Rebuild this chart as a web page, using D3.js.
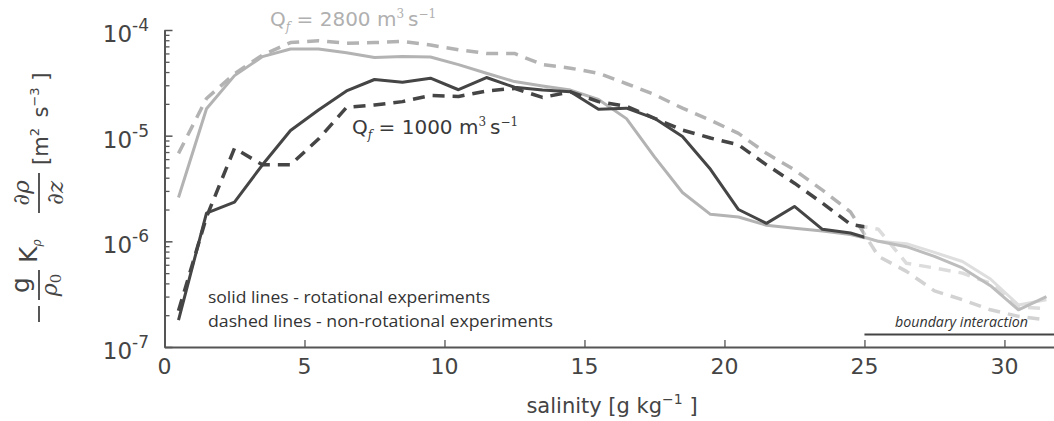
<!DOCTYPE html>
<html>
<head>
<meta charset="utf-8">
<script src="https://cdn.jsdelivr.net/npm/d3@7"></script>
<style>
  body { margin: 0; background: #fff; }
  svg { display: block; }
</style>
</head>
<body>
<svg id="chart" width="1054" height="421"></svg>
<script>
// Salinity bin centres [g/kg]
const salinityBins = [0.5, 1.5, 2.5, 3.5, 4.5, 5.5, 6.5, 7.5, 8.5, 9.5, 10.5, 11.5, 12.5, 13.5, 14.5, 15.5,
  16.5, 17.5, 18.5, 19.5, 20.5, 21.5, 22.5, 23.5, 24.5, 25.5, 26.5, 27.5, 28.5, 29.5, 30.5, 31.5];

// Buoyancy flux -g/rho0 K dRho/dz [m^2 s^-3] per salinity bin
const rot2800 = [2.6e-6, 1.8e-5, 3.7e-5, 5.6e-5, 6.6e-5, 6.6e-5, 6.1e-5, 5.5e-5, 5.6e-5, 5.55e-5, 4.7e-5,
  3.9e-5, 3.25e-5, 2.95e-5, 2.7e-5, 2.2e-5, 1.45e-5, 6.3e-6, 2.9e-6, 1.8e-6, 1.7e-6, 1.42e-6, 1.33e-6,
  1.25e-6, 1.16e-6, 1.0e-6, 9.5e-7, 7.85e-7, 6.45e-7, 4.4e-7, 2.5e-7, 2.8e-7];
const nonrot2800 = [6.8e-6, 2.25e-5, 3.85e-5, 5.8e-5, 7.6e-5, 7.9e-5, 7.5e-5, 7.6e-5, 7.8e-5, 7.2e-5, 6.5e-5,
  6.0e-5, 6.0e-5, 4.7e-5, 4.35e-5, 3.9e-5, 3.1e-5, 2.45e-5, 1.82e-5, 1.4e-5, 1.05e-5, 6.8e-6, 4.75e-6,
  3.05e-6, 1.9e-6, 7.2e-7, 5.2e-7, 3.4e-7, 2.8e-7, 2.25e-7, 1.95e-7, 1.8e-7];
const rot1000 = [1.8e-7, 1.85e-6, 2.35e-6, 5.3e-6, 1.12e-5, 1.75e-5, 2.65e-5, 3.4e-5, 3.2e-5, 3.5e-5, 2.72e-5,
  3.55e-5, 2.87e-5, 2.7e-5, 2.6e-5, 1.78e-5, 1.82e-5, 1.46e-5, 9.8e-6, 4.8e-6, 2.0e-6, 1.48e-6, 2.14e-6,
  1.3e-6, 1.2e-6, 1.0e-6, 8.9e-7, 7.2e-7, 5.6e-7, 3.8e-7, 2.25e-7, 3.0e-7];
const nonrot1000 = [2.2e-7, 1.7e-6, 7.6e-6, 5.3e-6, 5.3e-6, 9.3e-6, 1.85e-5, 1.95e-5, 2.1e-5, 2.4e-5, 2.35e-5,
  2.65e-5, 2.8e-5, 2.3e-5, 2.6e-5, 2.1e-5, 1.9e-5, 1.46e-5, 1.13e-5, 9.5e-6, 8.2e-6, 5.3e-6, 3.55e-6,
  2.3e-6, 1.45e-6, 1.3e-6, 6.2e-7, 5.6e-7, 5.0e-7, 4.0e-7, 2.4e-7, 2.3e-7];

const yTickExponents = [-4, -5, -6, -7];
const xTickValues = [0, 5, 10, 15, 20, 25, 30];
const boundaryStart = 25;   // salinity above which the plume interacts with the boundary

const W = 1054, H = 421;
const svg = d3.select("#chart");

const x = d3.scaleLinear().domain([0, 31.77]).range([164.5, 1054]);
const y = d3.scaleLog().domain([1e-7, 1e-4]).range([347, 30]);

const AXIS = "#555";
const TEXT = "#444";

// clip regions: interior and boundary-interaction range
const defs = svg.append("defs");
defs.append("clipPath").attr("id", "clip-main")
  .append("rect").attr("x", 0).attr("y", 0).attr("width", x(boundaryStart)).attr("height", H);
defs.append("clipPath").attr("id", "clip-boundary")
  .append("rect").attr("x", x(boundaryStart)).attr("y", 0)
  .attr("width", W - x(boundaryStart)).attr("height", H);

const series = [
  { values: nonrot2800, color: "#b3b3b3", fade: "#d2d2d2", dash: "12,8", width: 3.5 },
  { values: rot2800,    color: "#b3b3b3", fade: "#dedede", dash: null,   width: 3 },
  { values: nonrot1000, color: "#454545", fade: "#dcdcdc", dash: "12,8", width: 3.5 },
  { values: rot1000,    color: "#454545", fade: "#bdbdbd", dash: null,   width: 3 }
];

const line = d3.line()
  .x((d, i) => x(salinityBins[i]))
  .y(d => y(d));

// faded part first, then the interior part
[["clip-boundary", "fade"], ["clip-main", "color"]].forEach(([clip, key]) => {
  const g = svg.append("g").attr("clip-path", `url(#${clip})`);
  series.forEach(s => {
    g.append("path")
      .attr("d", line(s.values))
      .attr("fill", "none")
      .attr("stroke", s[key])
      .attr("stroke-width", s.width)
      .attr("stroke-linejoin", "round")
      .attr("stroke-dasharray", s.dash);
  });
});

// ---- axes ----
function styleAxis(g, tickWidth) {
  g.select(".domain").attr("stroke", AXIS).attr("stroke-width", 2);
  g.selectAll(".tick line").attr("stroke", AXIS).attr("stroke-width", tickWidth);
}

const majorY = yTickExponents.map(e => Math.pow(10, e));
const minorY = [];
[-7, -6, -5].forEach(e => { for (let m = 2; m <= 9; m++) minorY.push(m * Math.pow(10, e)); });

svg.append("g")
  .attr("transform", `translate(${x(0)},0)`)
  .call(d3.axisRight(y).tickValues(minorY).tickSize(5).tickSizeOuter(0).tickFormat(""))
  .call(g => styleAxis(g, 1.3));
svg.append("g")
  .attr("transform", `translate(${x(0)},0)`)
  .call(d3.axisRight(y).tickValues(majorY).tickSize(8).tickSizeOuter(0).tickFormat(""))
  .call(g => styleAxis(g, 1.5));

svg.append("g")
  .attr("transform", `translate(0,${y(1e-7)})`)
  .call(d3.axisTop(x).tickValues(xTickValues).tickSize(7).tickSizeOuter(0).tickFormat(""))
  .call(g => styleAxis(g, 1.3));

// y tick labels 10^k
yTickExponents.forEach(e => {
  const t = svg.append("text")
    .attr("x", 149).attr("y", y(Math.pow(10, e)) + 12)
    .attr("text-anchor", "end")
    .attr("font-family", "DejaVu Sans")
    .attr("font-size", 23)
    .attr("fill", TEXT);
  t.append("tspan").text("10");
  t.append("tspan").attr("dy", -11).attr("font-size", 17).text("-" + Math.abs(e));
});

// x tick labels
svg.append("g").selectAll("text")
  .data(xTickValues)
  .join("text")
  .attr("x", d => x(d))
  .attr("y", 374)
  .attr("text-anchor", "middle")
  .attr("font-family", "DejaVu Sans")
  .attr("font-size", 22)
  .attr("fill", TEXT)
  .text(d => d);

// x axis title
const xt = svg.append("text")
  .attr("x", 612).attr("y", 413)
  .attr("text-anchor", "middle")
  .attr("font-family", "DejaVu Sans")
  .attr("font-size", 21)
  .attr("fill", TEXT);
xt.append("tspan").text("salinity [g kg");
xt.append("tspan").attr("dy", -9).attr("font-size", 14).text("\u22121");
xt.append("tspan").attr("dy", 9).text(" ]");

// y axis title: -g/rho0 K_rho dRho/dz  [m^2 s^-3]
const yl = svg.append("g")
  .attr("transform", "translate(39,322) rotate(-90)")
  .attr("fill", TEXT);
const bar = (x1, x2) => yl.append("line")
  .attr("x1", x1).attr("x2", x2).attr("y1", 0).attr("y2", 0)
  .attr("stroke", TEXT).attr("stroke-width", 1.8);
bar(0, 16);          // leading minus
bar(22, 52);         // g / rho0
bar(109, 149);       // dRho / dz
yl.append("text").attr("x", 37).attr("y", -10).attr("text-anchor", "middle")
  .attr("font-family", "DejaVu Sans").attr("font-size", 25).text("g");
const rho0 = yl.append("text").attr("x", 37).attr("y", 18).attr("text-anchor", "middle")
  .attr("font-family", "DejaVu Serif").attr("font-style", "italic").attr("font-size", 22);
rho0.append("tspan").text("\u03C1");
rho0.append("tspan").attr("dy", 4).attr("font-size", 15).attr("font-style", "normal").text("0");
const kr = yl.append("text").attr("x", 59).attr("y", -2)
  .attr("font-family", "DejaVu Sans").attr("font-size", 25);
kr.append("tspan").text("K");
kr.append("tspan").attr("dy", 4).attr("font-size", 12)
  .attr("font-family", "DejaVu Serif").attr("font-style", "italic").text("\u03C1");
yl.append("text").attr("x", 129).attr("y", -10).attr("text-anchor", "middle")
  .attr("font-family", "DejaVu Serif").attr("font-style", "italic").attr("font-size", 23)
  .text("\u2202\u03C1");
yl.append("text").attr("x", 129).attr("y", 24).attr("text-anchor", "middle")
  .attr("font-family", "DejaVu Serif").attr("font-style", "italic").attr("font-size", 23)
  .text("\u2202z");
const units = yl.append("text").attr("x", 157).attr("y", 9)
  .attr("font-family", "DejaVu Sans").attr("font-size", 21);
units.append("tspan").text("[m");
units.append("tspan").attr("dy", -9).attr("font-size", 13).text("2");
units.append("tspan").attr("dy", 9).text("\u2002s");
units.append("tspan").attr("dy", -9).attr("font-size", 13).text("\u22123");
units.append("tspan").attr("dy", 9).text(" ]");

// discharge labels
function dischargeLabel(xp, yp, value, color) {
  const t = svg.append("text").attr("x", xp).attr("y", yp)
    .attr("font-family", "DejaVu Sans").attr("font-size", 20).attr("fill", color);
  t.append("tspan").text("Q");
  t.append("tspan").attr("dy", 5).attr("font-size", 12)
    .attr("font-family", "DejaVu Serif").attr("font-style", "italic").text("f");
  t.append("tspan").attr("dy", -5).text(` = ${value} m`);
  t.append("tspan").attr("dy", -8).attr("font-size", 12).attr("font-family", "DejaVu Serif").text("3");
  t.append("tspan").attr("dy", 8).text("\u2009s");
  t.append("tspan").attr("dy", -8).attr("font-size", 12).attr("font-family", "DejaVu Serif").text("\u22121");
}
dischargeLabel(270, 26, 2800, "#b0b0b0");
dischargeLabel(352, 134, 1000, "#3a3a3a");

// line-style legend
svg.append("text").attr("x", 208).attr("y", 303)
  .attr("font-family", "Open Sans").attr("font-size", 16).attr("fill", "#333")
  .attr("textLength", 282).attr("lengthAdjust", "spacingAndGlyphs")
  .text("solid lines - rotational experiments");
svg.append("text").attr("x", 208).attr("y", 327)
  .attr("font-family", "Open Sans").attr("font-size", 16).attr("fill", "#333")
  .attr("textLength", 345).attr("lengthAdjust", "spacingAndGlyphs")
  .text("dashed lines -  non-rotational experiments");

// boundary interaction range
svg.append("line")
  .attr("x1", x(boundaryStart)).attr("x2", W)
  .attr("y1", 334.5).attr("y2", 334.5)
  .attr("stroke", TEXT).attr("stroke-width", 2);
svg.append("text").attr("x", 895).attr("y", 327)
  .attr("font-family", "Open Sans").attr("font-style", "italic").attr("font-size", 14)
  .attr("fill", "#333")
  .attr("textLength", 133).attr("lengthAdjust", "spacingAndGlyphs")
  .text("boundary interaction");
</script>
</body>
</html>
